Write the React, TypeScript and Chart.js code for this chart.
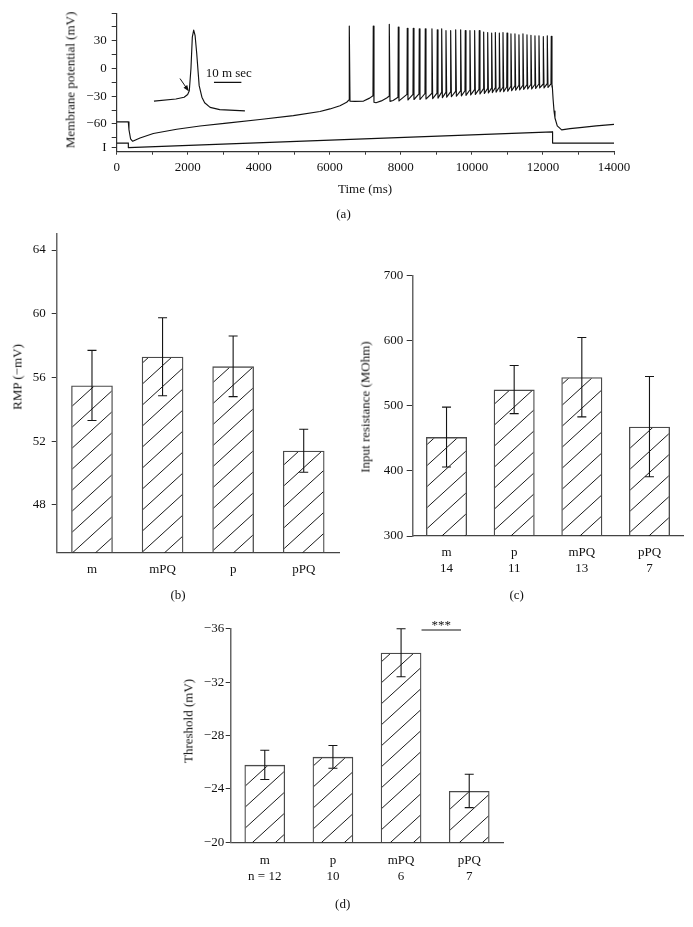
import React, { useEffect, useRef } from 'react';
import { Chart, registerables } from 'chart.js';

Chart.register(...registerables);

const SERIF = '"Liberation Serif", "Times New Roman", Times, serif';
const INK = '#111';
const FONT13 = { family: SERIF, size: 13, lineHeight: 1.25 };

// ---------------- Panel (a): membrane potential trace ----------------
const membraneTimeMs = [0, 327, 345, 390, 450, 656, 1031, 1689, 2345, 3096, 4034, 4972, 5723, 6004, 6286, 6474, 6700, 6950, 7120, 7300, 7450, 7600, 7780, 12262, 12285, 12312, 12338, 12403, 12526, 12760, 13041, 13500, 14000];
const membraneMv = [-57.7, -57.7, -66, -76, -78.7, -75.1, -70.3, -65.7, -62.2, -59.1, -55.2, -51, -46.5, -43.7, -40.2, -36.5, -35.6, -35.2, -32, -37, -35, -31.8, -34.5, -18.5, -33, -46, -53.5, -62, -66.4, -65, -64, -62, -60.5];

const spikeTimeMs = [6548, 7223, 7674, 7927, 8180, 8349, 8518, 8687, 8875, 9025, 9149, 9270, 9402, 9543, 9683, 9813, 9945, 10077, 10207, 10331, 10444, 10556, 10660, 10772, 10875, 10988, 11099, 11212, 11324, 11437, 11550, 11662, 11775, 11888, 12010, 12122, 12234];
const spikePeakMv = [46, 46, 48, 45, 43.5, 43.5, 43, 43, 43, 42, 43, 41, 41, 42, 42, 41, 41, 41, 41, 39.5, 39, 38.5, 39, 38.5, 39, 38.5, 37.5, 37.5, 36.5, 37.5, 36.5, 36, 35.5, 35.5, 34.5, 35.5, 35];
const spikePreMv = [-34, -29.5, -30, -31, -28, -28, -27.5, -27, -27, -26.5, -26, -26, -25.5, -25, -24.5, -24, -23.5, -23, -22.5, -22, -22, -21.5, -21, -20.5, -20.5, -20, -19.5, -19, -18.5, -18.5, -18, -17.5, -17.5, -17, -17, -16.5, -16.5];
const spikeTroughMv = [-35.3, -36.5, -35.5, -35, -34, -33.5, -33.5, -33, -32.5, -32, -31.5, -31, -30.5, -30, -29.5, -29, -28.5, -28, -27.5, -27, -26.5, -26, -25.5, -25, -25, -24.5, -24, -23.5, -23, -22.5, -22, -22, -21.5, -21, -21, -20.5, -20];

const currentTimeMs = [0, 327, 328, 12270, 12271, 14000];
const currentLevel = [-80.7, -80.7, -85.6, -68.5, -80.7, -80.7];

// inset: single action potential on its own (ms) time base
const insetTimeMs = [0, 8, 11, 12.3, 12.9, 13.5, 14.0, 14.5, 15.0, 15.6, 16.5, 17.5, 18.5, 20.5, 24, 33.2];
const insetMv = [-35.3, -33, -31, -28, -24, 0, 34, 41.6, 36, 16.5, -18.5, -31, -37, -42, -44.5, -45.8];
const insetScaleBarMs = [21.9, 31.9];
const insetScaleBarMv = [-15, -15];
const insetScaleLabel = '10 m sec';
const insetLabelAt = [27.3, -5.6];
const insetArrowMs = [9.5, 12.5];
const insetArrowMv = [-10.8, -23.7];

const aXTickValues = [0, 1000, 2000, 3000, 4000, 5000, 6000, 7000, 8000, 9000, 10000, 11000, 12000, 13000, 14000];
const aXTickLabels = ['0', '', '2000', '', '4000', '', '6000', '', '8000', '', '10000', '', '12000', '', '14000'];
const aYTickValues = [-85.8, -75, -60, -45, -30, -15, 0, 15, 30, 45, 60];
const aYTickLabels = ['I', '', '\u221260', '', '\u221230', '', '0', '', '30', '', ''];

// ---------------- Panel (b): RMP ----------------
const bCategories = ['m', 'mPQ', 'p', 'pPQ'];
const bRmp = [55.5, 57.3, 56.7, 51.4];
const bRmpErr = [2.2, 2.45, 1.9, 1.35];
const bTicks = [48, 52, 56, 60, 64];

// ---------------- Panel (c): input resistance ----------------
const cCategories = ['m', 'p', 'mPQ', 'pPQ'];
const cCounts = ['14', '11', '13', '7'];
const cResistance = [452, 525, 544, 468];
const cResistanceErr = [46, 37, 61, 77];
const cTicks = [300, 400, 500, 600, 700];

// ---------------- Panel (d): threshold ----------------
const dCategories = ['m', 'p', 'mPQ', 'pPQ'];
const dCounts = ['n = 12', '10', '6', '7'];
const dThreshold = [-25.8, -26.4, -34.2, -23.85];
const dThresholdErr = [1.1, 0.85, 1.8, 1.25];
const dTicks = [-36, -32, -28, -24, -20];
const dSigFrom = 2.3;
const dSigTo = 2.88;
const dSigLevel = -35.9;
const dSigTextLevel = -36.25;
const dSigLabel = '***';

const fmt = (v: number) => (v < 0 ? '\u2212' + Math.abs(v) : String(v));

function hatchPattern(): any {
  const W = 23, H = 21;
  const c = document.createElement('canvas');
  c.width = W;
  c.height = H;
  const g = c.getContext('2d');
  if (!g) return '#fff';
  g.strokeStyle = '#1a1a1a';
  g.lineWidth = 1;
  for (const k of [-1, 0, 1]) {
    g.beginPath();
    g.moveTo(k * W - W, 2 * H);
    g.lineTo(k * W + 2 * W, -H);
    g.stroke();
  }
  return g.createPattern(c, 'repeat') || '#fff';
}

function errorBarPlugin(values: number[], errors: number[]) {
  return {
    id: 'errorBars',
    afterDatasetsDraw(chart: any) {
      const meta = chart.getDatasetMeta(0);
      const ys = chart.scales.y;
      const ctx = chart.ctx;
      const cap = 4.5;
      ctx.save();
      ctx.strokeStyle = '#151515';
      ctx.lineWidth = 1.1;
      meta.data.forEach((el: any, i: number) => {
        const x = el.x;
        const y1 = ys.getPixelForValue(values[i] + errors[i]);
        const y2 = ys.getPixelForValue(values[i] - errors[i]);
        ctx.beginPath();
        ctx.moveTo(x, y1); ctx.lineTo(x, y2);
        ctx.moveTo(x - cap, y1); ctx.lineTo(x + cap, y1);
        ctx.moveTo(x - cap, y2); ctx.lineTo(x + cap, y2);
        ctx.stroke();
      });
      ctx.restore();
    },
  };
}

function sigPlugin() {
  return {
    id: 'sigBar',
    afterDatasetsDraw(chart: any) {
      const xs = chart.scales.x, ys = chart.scales.y, ctx = chart.ctx;
      const x1 = xs.getPixelForValue(dSigFrom), x2 = xs.getPixelForValue(dSigTo);
      const y = ys.getPixelForValue(dSigLevel);
      ctx.save();
      ctx.strokeStyle = '#151515';
      ctx.lineWidth = 1.1;
      ctx.beginPath(); ctx.moveTo(x1, y); ctx.lineTo(x2, y); ctx.stroke();
      ctx.fillStyle = INK;
      ctx.font = `13px ${SERIF}`;
      ctx.textAlign = 'center';
      ctx.textBaseline = 'middle';
      ctx.fillText(dSigLabel, (x1 + x2) / 2, ys.getPixelForValue(dSigTextLevel));
      ctx.restore();
    },
  };
}

const insetPlugin = {
  id: 'insetMarks',
  afterDatasetsDraw(chart: any) {
    const xs = chart.scales.xi, ys = chart.scales.y, ctx = chart.ctx;
    const x1 = xs.getPixelForValue(insetArrowMs[0]), y1 = ys.getPixelForValue(insetArrowMv[0]);
    const x2 = xs.getPixelForValue(insetArrowMs[1]), y2 = ys.getPixelForValue(insetArrowMv[1]);
    ctx.save();
    ctx.strokeStyle = INK; ctx.fillStyle = INK; ctx.lineWidth = 1;
    ctx.beginPath(); ctx.moveTo(x1, y1); ctx.lineTo(x2, y2); ctx.stroke();
    const a = Math.atan2(y2 - y1, x2 - x1), L = 5, w = 2.3;
    const c = Math.cos(a), s = Math.sin(a);
    ctx.beginPath();
    ctx.moveTo(x2 + c, y2 + s);
    ctx.lineTo(x2 - L * c + w * s, y2 - L * s - w * c);
    ctx.lineTo(x2 - L * c - w * s, y2 - L * s + w * c);
    ctx.closePath(); ctx.fill();
    ctx.font = `13px ${SERIF}`;
    ctx.textAlign = 'center'; ctx.textBaseline = 'middle';
    ctx.fillText(insetScaleLabel, xs.getPixelForValue(insetLabelAt[0]), ys.getPixelForValue(insetLabelAt[1]));
    ctx.restore();
  },
};

function configA(): any {
  const pts = membraneTimeMs.map((t, i) => ({ x: t, y: membraneMv[i] }));
  spikeTimeMs.forEach((t, i) => {
    pts.push({ x: t - 8, y: spikePreMv[i] }, { x: t, y: spikePeakMv[i] }, { x: t + 20, y: spikeTroughMv[i] });
  });
  pts.sort((p, q) => p.x - q.x);
  const line = { borderColor: INK, borderWidth: 1.15, pointRadius: 0, tension: 0, fill: false, borderJoinStyle: 'round' };
  return {
    type: 'line',
    data: {
      datasets: [
        { ...line, data: pts, xAxisID: 'x', yAxisID: 'y' },
        { ...line, data: currentTimeMs.map((t, i) => ({ x: t, y: currentLevel[i] })), xAxisID: 'x', yAxisID: 'y' },
        { ...line, data: insetTimeMs.map((t, i) => ({ x: t, y: insetMv[i] })), xAxisID: 'xi', yAxisID: 'y' },
        { ...line, borderWidth: 1.2, data: insetScaleBarMs.map((t, i) => ({ x: t, y: insetScaleBarMv[i] })), xAxisID: 'xi', yAxisID: 'y' },
      ],
    },
    options: {
      responsive: false,
      animation: false,
      events: [],
      layout: { padding: { left: 0, top: 8.3, right: 79, bottom: 0 } },
      plugins: { legend: { display: false }, tooltip: { enabled: false } },
      scales: {
        x: {
          type: 'linear', min: 0, max: 14000, position: 'bottom',
          afterBuildTicks: (s: any) => { s.ticks = aXTickValues.map((v) => ({ value: v })); },
          afterFit: (s: any) => { s.height = 48.3; },
          grid: { display: true, drawOnChartArea: false, drawTicks: true, tickLength: 3, tickColor: '#333', tickWidth: 1 },
          border: { display: true, color: '#333', width: 1.2 },
          ticks: { autoSkip: false, maxRotation: 0, padding: 4.5, font: FONT13, color: INK,
            callback: (v: number) => aXTickLabels[aXTickValues.indexOf(v)] ?? '' },
        },
        xi: { type: 'linear', display: false, min: -13.6, max: 167.9 },
        y: {
          type: 'linear', min: -90, max: 60, position: 'left',
          afterBuildTicks: (s: any) => { s.ticks = aYTickValues.map((v) => ({ value: v })); },
          afterFit: (s: any) => { s.width = 116.7; },
          grid: { display: true, drawOnChartArea: false, drawTicks: true, tickLength: 5, tickColor: '#333', tickWidth: 1 },
          border: { display: true, color: '#333', width: 1.2 },
          ticks: { autoSkip: false, padding: 5, font: FONT13, color: INK,
            callback: (v: number) => aYTickLabels[aYTickValues.indexOf(v)] ?? '' },
        },
      },
    },
    plugins: [insetPlugin],
  };
}

function barConfig(p: any): any {
  return {
    type: 'bar',
    data: {
      labels: p.labels,
      datasets: [{
        data: p.values,
        backgroundColor: hatchPattern(),
        borderColor: '#4a4a4a',
        borderWidth: 1.3,
        barPercentage: p.barPct,
        categoryPercentage: 1,
      }],
    },
    options: {
      responsive: false,
      animation: false,
      events: [],
      layout: { padding: p.pad },
      plugins: { legend: { display: false }, tooltip: { enabled: false } },
      scales: {
        x: {
          type: 'category', position: 'bottom',
          afterFit: (s: any) => { s.height = p.xHeight; },
          grid: { display: false, drawTicks: false },
          border: { display: true, color: '#444', width: 1.3 },
          ticks: { autoSkip: false, maxRotation: 0, padding: p.xPad, font: FONT13, color: INK },
        },
        y: {
          type: 'linear', min: p.yMin, max: p.yMax, reverse: !!p.reverse, position: 'left',
          afterBuildTicks: (s: any) => { s.ticks = p.yTicks.map((v: number) => ({ value: v })); },
          afterFit: (s: any) => { s.width = p.yWidth; },
          grid: { display: true, drawOnChartArea: false, drawTicks: true, tickLength: p.tickLen, tickColor: '#333', tickWidth: 1 },
          border: { display: true, color: '#666', width: 1.5 },
          ticks: { autoSkip: false, padding: p.yPad, font: FONT13, color: INK, callback: (v: number) => fmt(v) },
        },
      },
    },
    plugins: [errorBarPlugin(p.values, p.errors), ...(p.extra || [])],
  };
}

function Txt(props: { x: number; y: number; text: string; rotate?: boolean }) {
  return (
    <div
      style={{
        position: 'absolute',
        left: props.x,
        top: props.y,
        transform: `translate(-50%, -50%)${props.rotate ? ' rotate(-90deg)' : ''}`,
        whiteSpace: 'nowrap',
        fontFamily: SERIF,
        fontSize: 13,
        lineHeight: 1,
        color: INK,
      }}
    >
      {props.text}
    </div>
  );
}

export default function App() {
  const aRef = useRef<HTMLCanvasElement>(null);
  const bRef = useRef<HTMLCanvasElement>(null);
  const cRef = useRef<HTMLCanvasElement>(null);
  const dRef = useRef<HTMLCanvasElement>(null);

  useEffect(() => {
    const charts: Chart[] = [];
    charts.push(new Chart(aRef.current as HTMLCanvasElement, configA()));
    charts.push(new Chart(bRef.current as HTMLCanvasElement, barConfig({
      labels: bCategories, values: bRmp, errors: bRmpErr,
      yMin: 45, yMax: 65, yTicks: bTicks,
      pad: { left: 0, top: 10, right: 11, bottom: 0 },
      yWidth: 56.7, tickLen: 5, yPad: 6, xHeight: 57.3, xPad: 9, barPct: 0.59,
    })));
    charts.push(new Chart(cRef.current as HTMLCanvasElement, barConfig({
      labels: cCategories.map((c, i) => [c, cCounts[i]]), values: cResistance, errors: cResistanceErr,
      yMin: 300, yMax: 700, yTicks: cTicks,
      pad: { left: 0, top: 45.7, right: 9.7, bottom: 0 },
      yWidth: 72.7, tickLen: 6, yPad: 3.4, xHeight: 74, xPad: 8.6, barPct: 0.606,
    })));
    charts.push(new Chart(dRef.current as HTMLCanvasElement, barConfig({
      labels: dCategories.map((c, i) => [c, dCounts[i]]), values: dThreshold, errors: dThresholdErr,
      yMin: -36, yMax: -20, reverse: true, yTicks: dTicks,
      pad: { left: 0, top: 28.7, right: 26.7, bottom: 0 },
      yWidth: 80.7, tickLen: 5, yPad: 1.5, xHeight: 57.7, xPad: 10.3, barPct: 0.597,
      extra: [sigPlugin()],
    })));
    return () => charts.forEach((c) => c.destroy());
  }, []);

  const cv = (left: number, top: number, w: number, h: number) => ({
    position: 'absolute' as const, left, top, width: w, height: h,
  });

  return (
    <div style={{ position: 'absolute', left: 0, top: 0, width: 693, height: 927, background: '#fff', overflow: 'hidden' }}>
      <canvas ref={aRef} width={693} height={200} style={cv(0, 0, 693, 200)} />
      <canvas ref={bRef} width={350} height={390} style={cv(0, 220, 350, 390)} />
      <canvas ref={cRef} width={353} height={380} style={cv(340, 230, 353, 380)} />
      <canvas ref={dRef} width={380} height={300} style={cv(150, 600, 380, 300)} />

      <Txt x={69.5} y={80} text="Membrane potential (mV)" rotate />
      <Txt x={365} y={188.3} text="Time (ms)" />
      <Txt x={343.5} y={212.5} text="(a)" />

      <Txt x={16.7} y={376.7} text={'RMP (\u2212mV)'} rotate />
      <Txt x={178} y={594.3} text="(b)" />

      <Txt x={365} y={406.7} text="Input resistance (MOhm)" rotate />
      <Txt x={516.7} y={594.3} text="(c)" />

      <Txt x={188.3} y={720.5} text="Threshold (mV)" rotate />
      <Txt x={342.7} y={903.3} text="(d)" />
    </div>
  );
}
